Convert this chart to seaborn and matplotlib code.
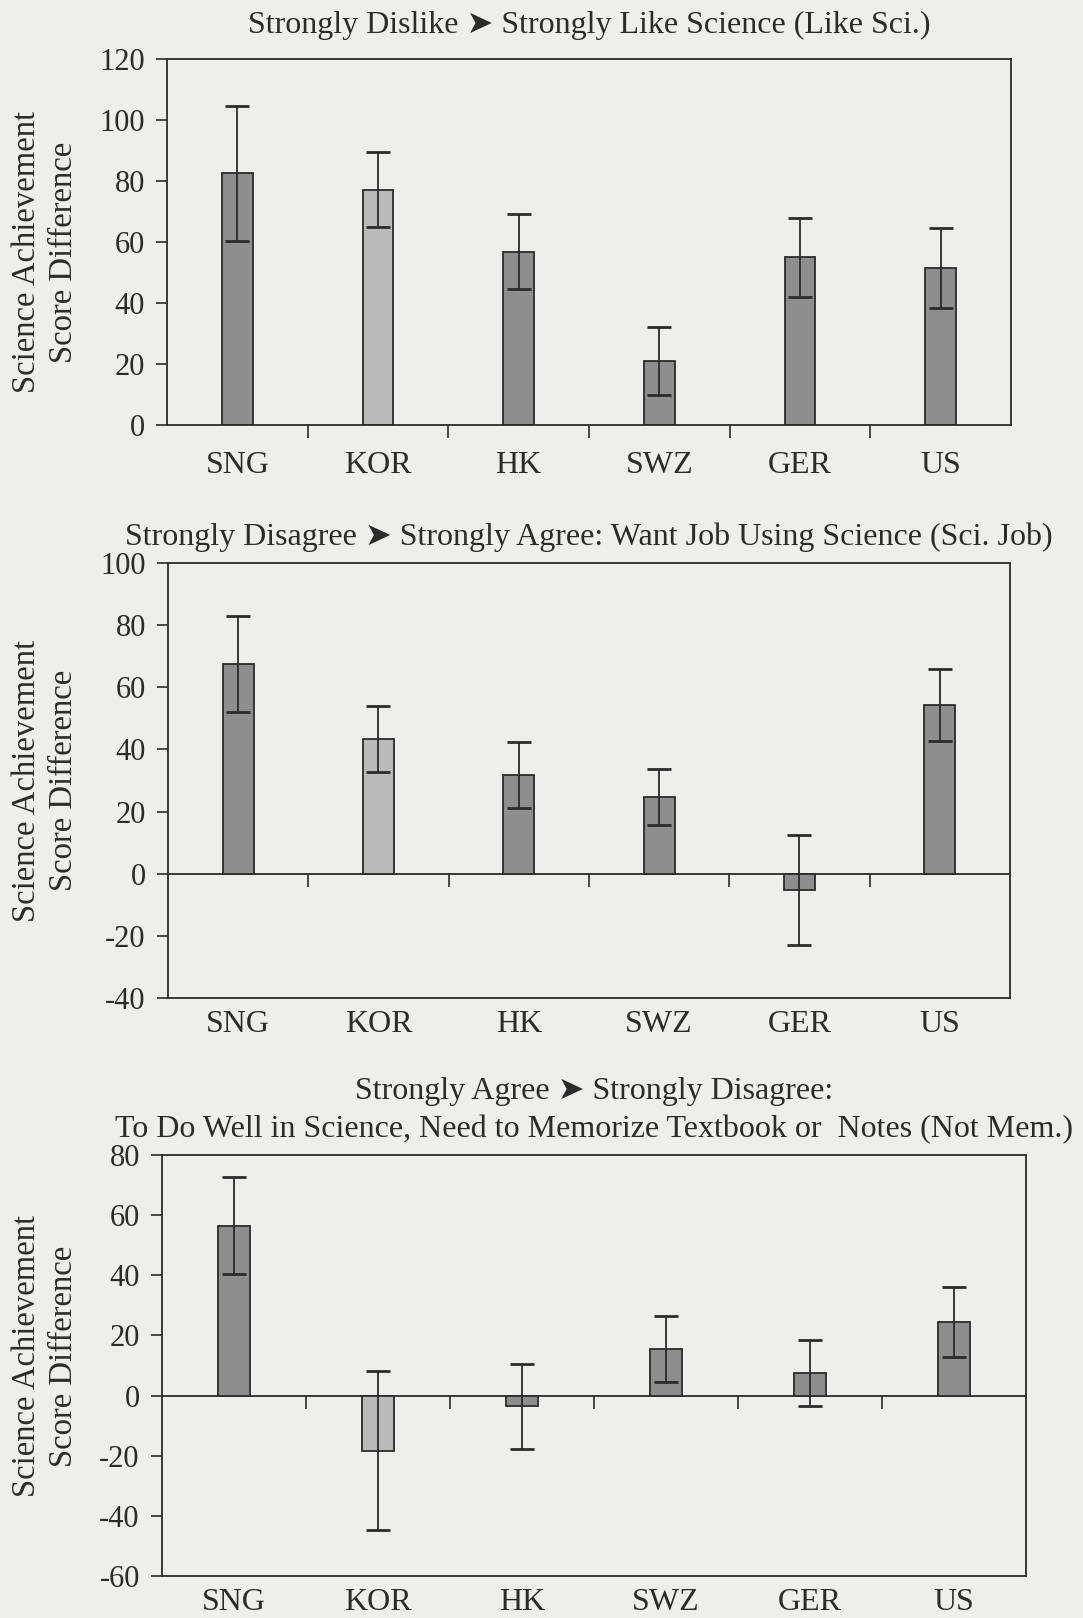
import numpy as np
import pandas as pd
import matplotlib
matplotlib.use("Agg")
import matplotlib.pyplot as plt
import seaborn as sns

# Countries on the x axis
countries = ["SNG", "KOR", "HK", "SWZ", "GER", "US"]

# Score differences and error-bar half widths per attitude item
like_sci = [82.5, 77.2, 56.8, 21.0, 55.0, 51.5]
like_sci_err = [22.0, 12.4, 12.3, 11.1, 13.0, 13.1]

sci_job = [67.4, 43.3, 31.9, 24.6, -5.3, 54.4]
sci_job_err = [15.4, 10.7, 10.6, 9.0, 17.8, 11.6]

not_mem = [56.5, -18.4, -3.6, 15.6, 7.6, 24.4]
not_mem_err = [16.0, 26.4, 14.1, 11.0, 11.0, 11.6]

titles = [
    "Strongly Dislike \u27a4 Strongly Like Science (Like Sci.)",
    "Strongly Disagree \u27a4 Strongly Agree: Want Job Using Science (Sci. Job)",
    "Strongly Agree \u27a4 Strongly Disagree:\n"
    "To Do Well in Science, Need to Memorize Textbook or  Notes (Not Mem.)",
]
y_limits = [(0, 120), (-40, 100), (-60, 80)]
y_label = "Science Achievement\nScore Difference"

bar_colors = ["#8e8e8e", "#bababa", "#8e8e8e", "#8e8e8e", "#8e8e8e", "#8e8e8e"]
ink = "#2b2b2b"
paper = "#eeeeec"

sns.set_style("white")
plt.rcParams["font.family"] = ["Liberation Serif", "DejaVu Sans"]
plt.rcParams["axes.unicode_minus"] = False
plt.rcParams["text.color"] = ink
plt.rcParams["axes.labelcolor"] = ink
plt.rcParams["xtick.color"] = ink
plt.rcParams["ytick.color"] = ink

fig = plt.figure(figsize=(10.83, 16.18), dpi=100, facecolor=paper)

# axes rectangles [left, bottom, width, height] in figure fractions
rects = [
    [0.1542, 0.7373, 0.7793, 0.2262],
    [0.1551, 0.3832, 0.7775, 0.2688],
    [0.1496, 0.0260, 0.7978, 0.2602],
]
title_pads = [19, 13, 12.5]
label_pads = [19, 9, 9]
ylabel_coords = [(-0.1446, 0.472), (-0.146, 0.5), (-0.1354, 0.522)]

panels = [(like_sci, like_sci_err), (sci_job, sci_job_err), (not_mem, not_mem_err)]

for i, ((vals, errs), rect) in enumerate(zip(panels, rects)):
    ax = fig.add_axes(rect)
    ax.set_facecolor(paper)
    df = pd.DataFrame({"country": countries, "diff": vals})
    sns.barplot(data=df, x="country", y="diff", hue="country",
                palette=bar_colors, legend=False, width=0.22,
                edgecolor=ink, linewidth=1.3, saturation=1,
                errorbar=None, ax=ax)
    ax.errorbar(np.arange(len(countries)), vals, yerr=errs, fmt="none",
                ecolor=ink, elinewidth=1.3, capsize=8.5, capthick=2.0,
                zorder=5)

    ymin, ymax = y_limits[i]
    ax.set_xlim(-0.5, len(countries) - 0.5)
    ax.set_ylim(ymin, ymax)
    ax.set_yticks(np.arange(ymin, ymax + 1, 20))
    ax.tick_params(axis="y", direction="out", length=8, width=1.2,
                   labelsize=22, pad=8, left=True)

    for sp in ax.spines.values():
        sp.set_visible(True)
        sp.set_color(ink)
        sp.set_linewidth(1.3)

    ax.set_xlabel("")
    ax.set_ylabel(y_label, fontsize=23.5, linespacing=1.28, va="center")
    ax.yaxis.set_label_coords(*ylabel_coords[i])
    ax.set_title(titles[i], fontsize=23, pad=title_pads[i], linespacing=1.43)

    boundaries = np.arange(0.5, len(countries) - 1, 1.0)
    ax.tick_params(axis="x", which="major", length=0, labelsize=23,
                   pad=label_pads[i])
    if ymin == 0:
        ax.set_xticks(boundaries, minor=True)
        ax.tick_params(axis="x", which="minor", direction="out", length=9,
                       width=1.2, bottom=True)
    else:
        zero_pos = -ymin / (ymax - ymin)
        zax = ax.secondary_xaxis(zero_pos)
        zax.set_xticks(boundaries)
        zax.set_xticklabels([])
        zax.tick_params(direction="out", length=9, width=1.2, color=ink)
        zax.spines["bottom"].set_color(ink)
        zax.spines["bottom"].set_linewidth(1.3)

fig.savefig("out.png", dpi=100, facecolor=paper)
